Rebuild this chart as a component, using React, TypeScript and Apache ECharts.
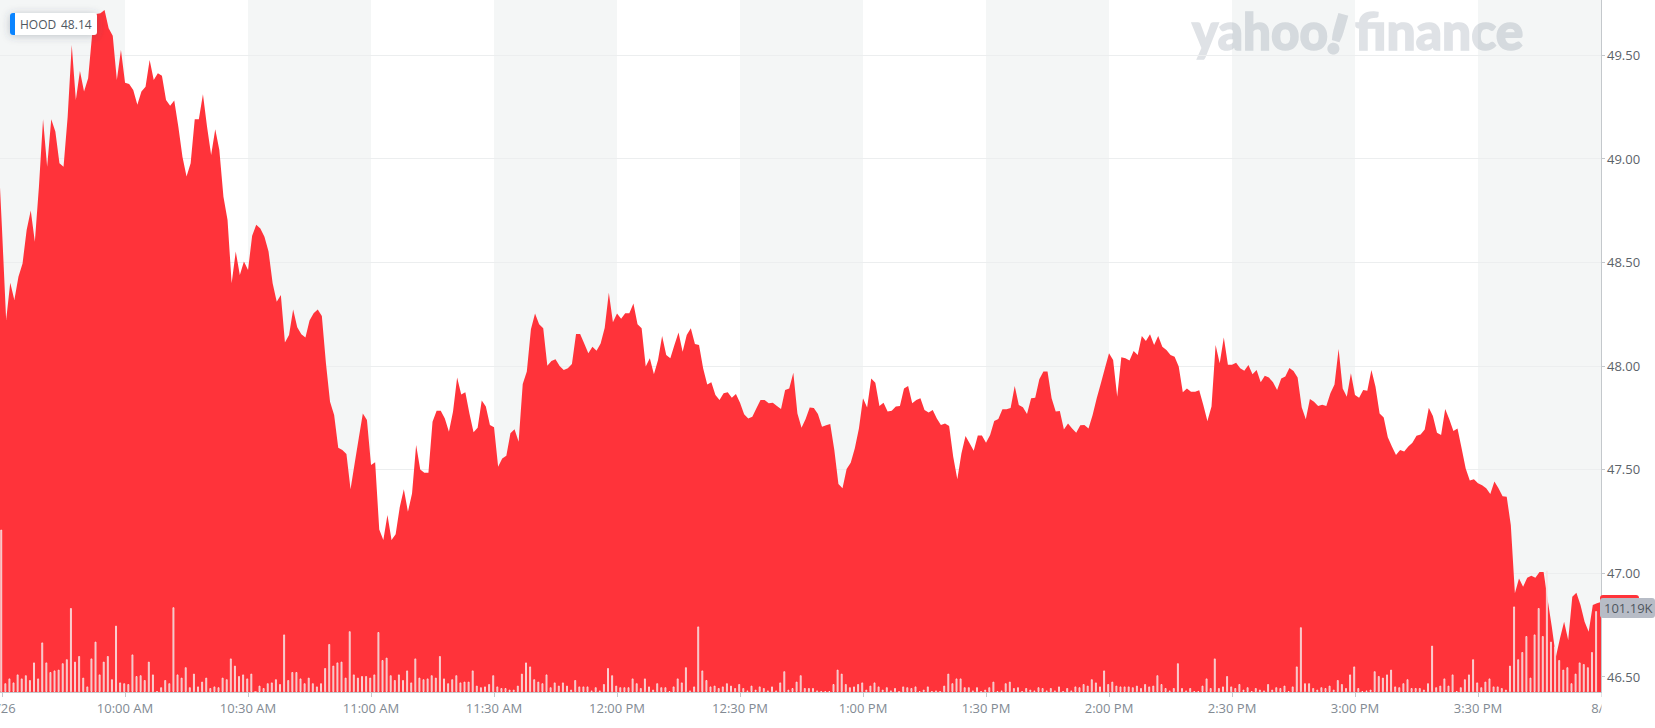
import { useEffect, useRef } from 'react';
import * as echarts from 'echarts';

// first print sits just left of the 9:30 slot, then one price per minute
const preOpenPrice = 48.86;
const prices = [
  48.655, 48.221, 48.401, 48.318, 48.43, 48.494, 48.655, 48.749, 48.599, 48.865,
  49.19, 48.96, 49.19, 49.13, 48.977, 48.96, 49.2, 49.548, 49.283, 49.423,
  49.323, 49.387, 49.605, 49.698, 49.701, 49.717, 49.629, 49.592, 49.379, 49.524,
  49.366, 49.36, 49.331, 49.259, 49.323, 49.347, 49.476, 49.379, 49.412, 49.399,
  49.283, 49.255, 49.28, 49.154, 49.009, 48.913, 48.977, 49.19, 49.19, 49.31,
  49.154, 49.017, 49.141, 49.041, 48.816, 48.704, 48.398, 48.551, 48.438, 48.503,
  48.462, 48.628, 48.68, 48.663, 48.623, 48.551, 48.398, 48.309, 48.342, 48.112,
  48.149, 48.272, 48.186, 48.152, 48.136, 48.218, 48.253, 48.272, 48.24, 48.012,
  47.827, 47.762, 47.605, 47.594, 47.574, 47.404, 47.529, 47.65, 47.77, 47.738,
  47.521, 47.534, 47.21, 47.159, 47.28, 47.159, 47.187, 47.317, 47.404, 47.296,
  47.384, 47.618, 47.5, 47.484, 47.484, 47.73, 47.783, 47.783, 47.746, 47.682,
  47.779, 47.943, 47.862, 47.872, 47.77, 47.679, 47.701, 47.832, 47.803, 47.714,
  47.703, 47.513, 47.553, 47.566, 47.674, 47.694, 47.634, 47.912, 47.972, 48.176,
  48.252, 48.2, 48.181, 48.0, 48.023, 48.031, 47.999, 47.98, 47.988, 48.009,
  48.153, 48.153, 48.108, 48.06, 48.092, 48.073, 48.108, 48.184, 48.353, 48.21,
  48.252, 48.227, 48.253, 48.253, 48.301, 48.2, 48.181, 47.996, 48.036, 47.959,
  48.028, 48.144, 48.052, 48.036, 48.1, 48.161, 48.068, 48.149, 48.181, 48.105,
  48.1, 47.988, 47.91, 47.92, 47.859, 47.835, 47.867, 47.872, 47.846, 47.864,
  47.822, 47.766, 47.746, 47.754, 47.795, 47.835, 47.835, 47.819, 47.822, 47.806,
  47.791, 47.883, 47.891, 47.967, 47.77, 47.701, 47.743, 47.799, 47.796, 47.767,
  47.706, 47.713, 47.719, 47.594, 47.43, 47.409, 47.502, 47.532, 47.602, 47.698,
  47.843, 47.799, 47.939, 47.918, 47.806, 47.822, 47.779, 47.783, 47.803, 47.806,
  47.891, 47.902, 47.819, 47.835, 47.843, 47.787, 47.775, 47.787, 47.746, 47.714,
  47.722, 47.709, 47.561, 47.452, 47.577, 47.661, 47.626, 47.59, 47.664, 47.664,
  47.629, 47.666, 47.734, 47.743, 47.79, 47.79, 47.796, 47.902, 47.811, 47.8,
  47.767, 47.843, 47.846, 47.935, 47.972, 47.972, 47.843, 47.779, 47.782, 47.693,
  47.722, 47.698, 47.677, 47.713, 47.714, 47.698, 47.762, 47.843, 47.915, 47.988,
  48.06, 48.028, 47.851, 48.041, 48.036, 48.025, 48.071, 48.052, 48.144, 48.12,
  48.152, 48.1, 48.144, 48.092, 48.076, 48.052, 48.044, 47.996, 47.872, 47.891,
  47.875, 47.875, 47.882, 47.811, 47.734, 47.803, 48.1, 48.012, 48.137, 48.005,
  48.005, 48.015, 47.988, 47.976, 48.004, 47.959, 47.98, 47.92, 47.952, 47.943,
  47.92, 47.883, 47.939, 47.948, 47.989, 47.975, 47.944, 47.8, 47.742, 47.84,
  47.827, 47.806, 47.812, 47.806, 47.867, 47.91, 48.081, 47.891, 47.851, 47.964,
  47.859, 47.846, 47.883, 47.88, 47.98, 47.899, 47.77, 47.751, 47.655, 47.61,
  47.569, 47.594, 47.586, 47.61, 47.629, 47.663, 47.669, 47.693, 47.798, 47.758,
  47.677, 47.666, 47.791, 47.742, 47.685, 47.698, 47.602, 47.505, 47.446, 47.452,
  47.433, 47.423, 47.409, 47.381, 47.442, 47.409, 47.371, 47.368, 47.232, 46.902,
  46.974, 46.934, 46.977, 46.987, 46.977, 47.005, 47.005, 46.87, 46.741, 46.596,
  46.685, 46.765, 46.677, 46.886, 46.905, 46.846, 46.765, 46.717, 46.846, 46.854,
  46.86,
];

// per minute volume, in thousands
const volumes = [
  203, 11, 17, 12, 22, 17, 21, 15, 37, 17, 62, 37, 25, 27, 28, 36, 41, 105, 38, 45,
  18, 7, 42, 63, 22, 38, 45, 16, 83, 12, 11, 10, 47, 20, 21, 15, 38, 22, 1, 6,
  15, 11, 106, 22, 18, 31, 6, 23, 7, 13, 18, 5, 7, 6, 18, 16, 42, 33, 20, 22,
  17, 23, 0, 8, 5, 11, 12, 16, 10, 72, 15, 25, 25, 17, 11, 18, 11, 7, 11, 30,
  60, 33, 37, 38, 18, 76, 22, 18, 20, 20, 18, 22, 75, 40, 43, 21, 15, 22, 15, 27,
  12, 42, 18, 16, 17, 21, 18, 45, 17, 11, 16, 21, 12, 13, 13, 27, 8, 6, 7, 10,
  21, 7, 5, 5, 3, 3, 8, 23, 37, 32, 16, 13, 11, 22, 6, 12, 8, 12, 8, 3,
  15, 7, 7, 7, 2, 6, 2, 10, 30, 21, 8, 6, 6, 6, 17, 11, 5, 17, 7, 3,
  11, 6, 6, 1, 7, 17, 12, 31, 2, 7, 82, 27, 15, 7, 8, 5, 7, 11, 8, 5,
  10, 5, 2, 8, 3, 7, 5, 2, 7, 2, 12, 26, 3, 5, 13, 21, 5, 5, 5, 2,
  1, 1, 1, 10, 28, 23, 10, 6, 7, 10, 12, 3, 8, 12, 7, 3, 6, 2, 5, 0,
  7, 6, 5, 7, 1, 3, 7, 1, 2, 1, 8, 23, 11, 17, 17, 6, 6, 2, 6, 1,
  3, 6, 13, 1, 2, 11, 13, 5, 6, 1, 5, 3, 2, 6, 5, 2, 5, 2, 7, 1,
  5, 2, 7, 6, 10, 8, 16, 12, 7, 27, 10, 13, 8, 7, 7, 7, 6, 8, 5, 10,
  7, 8, 21, 10, 5, 2, 5, 36, 5, 2, 5, 1, 1, 8, 17, 5, 42, 5, 7, 20,
  7, 5, 10, 3, 6, 1, 5, 3, 2, 10, 3, 6, 5, 8, 1, 7, 32, 81, 11, 11,
  5, 3, 6, 5, 8, 3, 15, 10, 5, 22, 32, 5, 1, 2, 3, 26, 20, 18, 22, 28,
  7, 6, 11, 16, 5, 5, 5, 3, 11, 58, 6, 8, 17, 8, 22, 1, 6, 16, 22, 41,
  12, 6, 13, 17, 7, 7, 5, 3, 33, 107, 41, 50, 70, 18, 72, 105, 70, 152, 63, 57,
  40, 28, 31, 11, 23, 37, 35, 31, 50, 101.19,
];

const priceTicks = [46.5, 47, 47.5, 48, 48.5, 49, 49.5];
const timeTicks = [0, 30, 60, 90, 120, 150, 180, 210, 240, 270, 300, 330, 360, 390];
const timeLabels = [
  '7/26', '10:00 AM', '10:30 AM', '11:00 AM', '11:30 AM', '12:00 PM', '12:30 PM',
  '1:00 PM', '1:30 PM', '2:00 PM', '2:30 PM', '3:00 PM', '3:30 PM', '8/2',
];
const shadedBands = [
  [-0.5, 30], [60, 90], [120, 150], [180, 210], [240, 270], [300, 330], [360, 390],
];

const RED = '#ff333a';
const FONT = '"Open Sans", sans-serif';
const LOGO = '#dfe2e6';

export default function App() {
  const chartRef = useRef<HTMLDivElement>(null);

  useEffect(() => {
    if (!chartRef.current) return;
    const chart = echarts.init(chartRef.current, undefined, { renderer: 'svg' });

    chart.setOption({
      animation: false,
      textStyle: { fontFamily: FONT },
      grid: { left: 0, top: 0, width: 1601, height: 692, outerBoundsMode: 'none' },
      xAxis: [
        {
          type: 'value',
          min: -0.5,
          max: 390,
          position: 'bottom',
          splitLine: { show: false },
          axisLine: { onZero: false, lineStyle: { color: '#c4c8cc', width: 1 } },
          axisTick: { customValues: timeTicks, length: 5, lineStyle: { color: '#c4c8cc' } },
          axisLabel: {
            customValues: timeTicks,
            margin: 9,
            fontSize: 13,
            fontFamily: FONT,
            color: (v: any) => (v === 0 || v === 390 ? '#464e56' : '#828a93'),
            formatter: (v: any) => timeLabels[timeTicks.indexOf(v)],
          },
        },
        // bars sit about a pixel left of the price vertices
        { type: 'value', min: -0.3, max: 390.2, show: false, splitLine: { show: false } },
      ],
      yAxis: [
        {
          type: 'value',
          min: 46.426,
          max: 49.765,
          position: 'right',
          splitLine: { show: false },
          axisLine: { show: true, onZero: false, lineStyle: { color: '#c4c8cc', width: 1 } },
          axisTick: { show: true, customValues: priceTicks, length: 4, lineStyle: { color: '#c4c8cc' } },
          axisLabel: {
            customValues: priceTicks,
            margin: 6,
            fontSize: 13,
            fontFamily: FONT,
            color: '#5c636a',
            formatter: (v: any) => Number(v).toFixed(2),
          },
        },
        { type: 'value', min: 0, max: 865, show: false, splitLine: { show: false } },
      ],
      series: [
        {
          name: 'bands',
          type: 'line',
          z: 1,
          data: [],
          silent: true,
          markArea: {
            silent: true,
            z: 1,
            itemStyle: { color: 'rgba(35,75,75,0.05)' },
            data: shadedBands.map((b) => [{ xAxis: b[0] }, { xAxis: b[1] }]),
          },
          markLine: {
            silent: true,
            z: 1,
            symbol: 'none',
            label: { show: false },
            lineStyle: { color: '#eceeef', width: 1, type: 'solid' },
            data: priceTicks.map((p) => ({ yAxis: p })),
          },
        },
        {
          name: 'HOOD',
          type: 'line',
          z: 2,
          showSymbol: false,
          lineStyle: { width: 0 },
          areaStyle: { color: RED, opacity: 1, origin: 'start' },
          data: [[-0.5, preOpenPrice], ...prices.map((p, i) => [i, p])],
        },
        {
          name: 'Volume',
          type: 'bar',
          z: 3,
          xAxisIndex: 1,
          yAxisIndex: 1,
          barWidth: 2,
          itemStyle: {
            color: 'rgba(195,195,200,0.72)',
            borderColor: 'rgba(255,232,232,0.8)',
            borderWidth: 1,
          },
          data: volumes.map((v, i) => [i, v]),
        },
      ],
      graphic: [
        {
          type: 'text',
          z: 1,
          x: 1192,
          y: 4,
          scaleX: 0.95,
          silent: true,
          style: { text: 'yahoo', font: '900 52px Lato, sans-serif', fill: LOGO, stroke: LOGO, lineWidth: 1.5 },
        },
        {
          type: 'text',
          z: 1,
          x: 1338,
          y: 6,
          rotation: -0.28,
          silent: true,
          style: { text: '!', font: '900 52px Lato, sans-serif', fill: LOGO, stroke: LOGO, lineWidth: 3.5 },
        },
        {
          type: 'text',
          z: 1,
          x: 1355,
          y: 4,
          scaleX: 0.99,
          silent: true,
          style: { text: 'finance', font: '900 52px Lato, sans-serif', fill: LOGO, stroke: LOGO, lineWidth: 1.5 },
        },
        // label chip, top left
        {
          type: 'rect',
          z: 50,
          shape: { x: 10, y: 13, width: 87, height: 22, r: 3 },
          style: { fill: '#fff', shadowBlur: 8, shadowColor: 'rgba(60,70,90,0.3)', shadowOffsetY: 1 },
        },
        {
          type: 'rect',
          z: 51,
          shape: { x: 10, y: 13, width: 5, height: 22, r: [3, 0, 0, 3] },
          style: { fill: '#0a84ff' },
        },
        {
          type: 'text',
          z: 52,
          x: 20,
          y: 24,
          style: { text: 'HOOD', font: `12px ${FONT}`, fill: '#4f575f', verticalAlign: 'middle' },
        },
        {
          type: 'text',
          z: 52,
          x: 61,
          y: 24,
          style: { text: '48.14', font: `12px ${FONT}`, fill: '#4f575f', verticalAlign: 'middle' },
        },
        // last price flag, mostly hidden by the volume flag
        {
          type: 'rect',
          z: 50,
          shape: { x: 1600, y: 595, width: 39, height: 21, r: 3 },
          style: { fill: RED },
        },
        {
          type: 'rect',
          z: 51,
          shape: { x: 1600, y: 598, width: 55, height: 20, r: 3 },
          style: { fill: '#b7bcc6' },
        },
        {
          type: 'text',
          z: 52,
          x: 1604,
          y: 608,
          style: { text: '101.19K', font: `13px ${FONT}`, fill: '#4f575f', verticalAlign: 'middle' },
        },
        // the last date label is cut off at the edge of the plot
        {
          type: 'rect',
          z: 49,
          silent: true,
          shape: { x: 1601.5, y: 693, width: 54, height: 35 },
          style: { fill: '#fff' },
        },
      ],
    });

    return () => chart.dispose();
  }, []);

  return <div ref={chartRef} style={{ position: 'absolute', left: 0, top: 0, width: 1655, height: 728 }} />;
}
